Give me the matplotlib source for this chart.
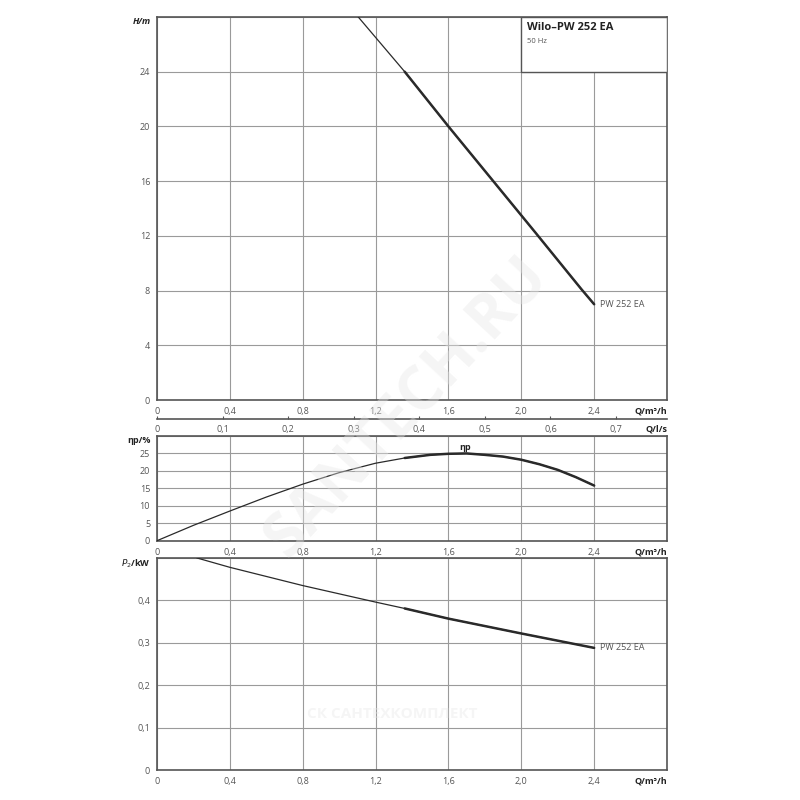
import matplotlib.pyplot as plt
from matplotlib.patches import Rectangle

plt.rcParams['font.family'] = ['Open Sans', 'DejaVu Sans']

# head curve H(Q)
q_head = [1.105, 1.36, 1.6, 1.84, 2.08, 2.33, 2.4]
head = [28, 24, 20, 16.1, 12.2, 8.1, 7.0]

# efficiency curve
q_eta = [0, 0.2, 0.4, 0.6, 0.8, 1.0, 1.2, 1.36, 1.5, 1.6, 1.7, 1.8, 1.9, 2.0, 2.1, 2.2, 2.3, 2.4]
eta = [0, 4.4, 8.5, 12.5, 16.2, 19.5, 22.2, 23.7, 24.6, 24.9, 25.0, 24.6, 24.1, 23.2, 21.9, 20.3, 18.2, 15.8]

# power curve P2
q_pow = [0.22, 0.4, 0.8, 1.2, 1.36, 1.6, 2.0, 2.4]
power = [0.5, 0.478, 0.435, 0.396, 0.381, 0.357, 0.322, 0.288]

q_ticks = [0, 0.4, 0.8, 1.2, 1.6, 2.0, 2.4]
q_ls_ticks = [0, 0.1, 0.2, 0.3, 0.4, 0.5, 0.6, 0.7]
h_ticks = [0, 4, 8, 12, 16, 20, 24]
eta_ticks = [0, 5, 10, 15, 20, 25]
p_ticks = [0, 0.1, 0.2, 0.3, 0.4]

pump = 'PW 252 EA'
thick_from = 1.36

grid_c = '#9a9a9a'
spine_c = '#555555'
curve_c = '#2a2a2a'
label_c = '#555555'


def fmt(v, nd=1):
    if v == 0:
        return '0'
    return f'{v:.{nd}f}'.replace('.', ',')


def style(ax, ymax, yticks, ylabels):
    ax.set_xlim(0, 2.8)
    ax.set_ylim(0, ymax)
    ax.set_xticks(q_ticks)
    ax.set_xticklabels([fmt(v) for v in q_ticks])
    ax.set_yticks(yticks)
    ax.set_yticklabels(ylabels)
    ax.set_xticks([2.8], minor=True)
    ax.set_yticks([ymax], minor=True)
    ax.grid(True, which='both', color=grid_c, linewidth=0.8)
    ax.set_axisbelow(True)
    ax.tick_params(which='both', length=0, labelsize=6.5, labelcolor=label_c, pad=5)
    for s in ax.spines.values():
        s.set_color(spine_c)
        s.set_linewidth(1.2)
    ax.annotate('Q/m³/h', xy=(1.0, 0), xycoords='axes fraction', xytext=(0, -5),
                textcoords='offset points', ha='right', va='top',
                fontsize=6.5, fontweight='bold', color='#222222')


def curve(ax, q, y):
    ax.plot(q, y, color=curve_c, linewidth=0.9, zorder=3)
    qq = [a for a in q if a >= thick_from]
    yy = [b for a, b in zip(q, y) if a >= thick_from]
    ax.plot(qq, yy, color=curve_c, linewidth=1.8, zorder=3, solid_capstyle='round')


fig = plt.figure(figsize=(8, 8), dpi=100)
left, width = 157 / 800, 510 / 800

# --- head ---
ax1 = fig.add_axes([left, 1 - 400 / 800, width, 383 / 800])
style(ax1, 28, h_ticks, [str(v) for v in h_ticks])
curve(ax1, q_head, head)
ax1.text(q_head[-1] + 0.03, head[-1], pump, fontsize=6.5, color=label_c, va='center', ha='left')
ax1.text(-0.012, 1.0, 'H/m', transform=ax1.transAxes, ha='right', va='top',
         fontsize=6.5, fontweight='bold', style='italic', color='#222222')
box = Rectangle((2.0, 24), 0.8, 4, facecolor='white', edgecolor=spine_c, linewidth=1.0, zorder=4)
ax1.add_patch(box)
ax1.text(2.03, 27.6, 'Wilo–PW 252 EA', fontsize=8, fontweight='bold', color='#222222',
         va='top', ha='left', zorder=5)
ax1.text(2.03, 26.45, '50 Hz', fontsize=5.5, color=label_c, va='top', ha='left', zorder=5)

# --- second flow axis in l/s ---
axq = fig.add_axes([left, 1 - 419 / 800, width, 0.0001])
axq.set_xlim(0, 2.8 / 3.6)
axq.set_ylim(0, 1)
axq.set_yticks([])
axq.set_xticks(q_ls_ticks)
axq.set_xticklabels([fmt(v) for v in q_ls_ticks])
for k in ['left', 'right', 'bottom']:
    axq.spines[k].set_visible(False)
axq.spines['top'].set_color(spine_c)
axq.spines['top'].set_linewidth(1.2)
axq.tick_params(axis='x', direction='in', length=2, color=spine_c, labelsize=6.5,
                labelcolor=label_c, pad=4)
axq.annotate('Q/l/s', xy=(1.0, 0), xycoords='axes fraction', xytext=(0, -4),
             textcoords='offset points', ha='right', va='top',
             fontsize=6.5, fontweight='bold', color='#222222')
axq.patch.set_visible(False)

# --- efficiency ---
ax2 = fig.add_axes([left, 1 - 540.7 / 800, width, 104.7 / 800])
style(ax2, 30, eta_ticks, [str(v) for v in eta_ticks])
curve(ax2, q_eta, eta)
ax2.text(1.69, 26.7, 'ηp', fontsize=6.5, fontweight='bold', color='#222222', ha='center', va='center')
ax2.text(-0.012, 1.0, 'ηp/%', transform=ax2.transAxes, ha='right', va='top',
         fontsize=6.5, fontweight='bold', color='#222222')

# --- power ---
ax3 = fig.add_axes([left, 1 - 770 / 800, width, 212 / 800])
style(ax3, 0.5, p_ticks, [fmt(v) for v in p_ticks])
curve(ax3, q_pow, power)
ax3.text(q_pow[-1] + 0.03, power[-1], pump, fontsize=6.5, color=label_c, va='center', ha='left')
ax3.text(-0.012, 1.0, r'$P_2$/kW', transform=ax3.transAxes, ha='right', va='top',
         fontsize=6.5, fontweight='bold', color='#222222')

# watermarks
fig.text(0.51, 0.49, 'SANTECH.RU', fontsize=44, fontweight='bold', color='#e6e6e6', alpha=0.4,
         rotation=47, ha='center', va='center', zorder=10)
fig.text(0.49, 0.108, 'СК САНТЕХКОМПЛЕКТ', fontsize=11, fontweight='bold', color='#e6e6e6',
         alpha=0.4, ha='center', va='center', zorder=10)

fig.savefig('out.png', dpi=100, facecolor='white')
